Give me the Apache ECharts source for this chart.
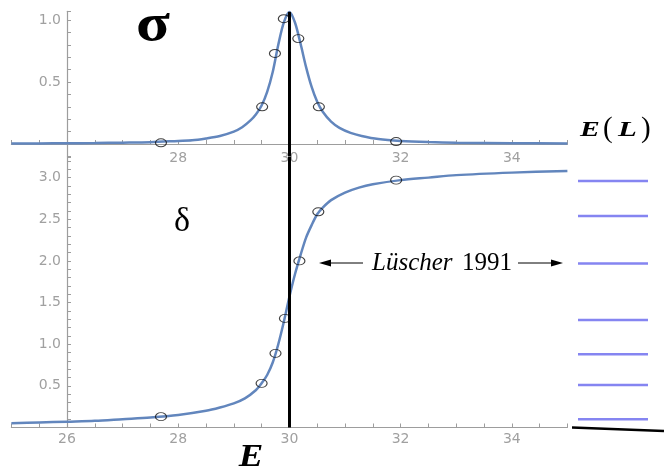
<!DOCTYPE html>
<html>
<head>
<meta charset="utf-8">
<script src="https://cdn.jsdelivr.net/npm/echarts@6/dist/echarts.min.js"></script>
<style>html,body{margin:0;padding:0;background:#fff}#c{width:664px;height:470px}</style>
</head>
<body>
<div id="c"></div>
<script>
// ---- data ----
const sigmaCurveE = [25, 25.5, 26, 26.5, 27, 27.5, 28, 28.25, 28.5, 28.75, 29, 29.15, 29.3, 29.4, 29.5, 29.6, 29.7, 29.8, 29.9, 30.0, 30.1, 30.2, 30.3, 30.4, 30.5, 30.6, 30.75, 30.9, 31.1, 31.3, 31.6, 32, 32.5, 33, 34, 35];
const sigmaCurveV = [0.004, 0.005, 0.006, 0.008, 0.011, 0.015, 0.025, 0.03, 0.045, 0.065, 0.10, 0.135, 0.19, 0.24, 0.31, 0.42, 0.58, 0.80, 0.98, 1.065, 0.98, 0.81, 0.62, 0.46, 0.34, 0.26, 0.18, 0.13, 0.09, 0.065, 0.04, 0.025, 0.016, 0.011, 0.007, 0.005];
const deltaCurveE = [25, 25.5, 26, 26.5, 27, 27.5, 28, 28.5, 28.75, 29, 29.2, 29.4, 29.5, 29.6, 29.7, 29.8, 29.9, 30.0, 30.1, 30.2, 30.3, 30.4, 30.5, 30.6, 30.75, 31, 31.25, 31.5, 32, 32.5, 33, 34, 35];
const deltaCurveV = [0.05, 0.06, 0.07, 0.08, 0.10, 0.12, 0.15, 0.20, 0.24, 0.29, 0.35, 0.45, 0.53, 0.63, 0.78, 1.0, 1.27, 1.57, 1.84, 2.07, 2.28, 2.43, 2.56, 2.64, 2.73, 2.82, 2.88, 2.92, 2.97, 3.0, 3.03, 3.06, 3.08];
const pointE = [27.69, 29.51, 29.74, 29.9, 30.16, 30.53, 31.92];
const sigmaPts = [0.01, 0.30, 0.73, 1.01, 0.85, 0.30, 0.02];
const deltaE = [27.69, 29.5, 29.75, 29.92, 30.18, 30.52, 31.92];
const deltaPts = [0.13, 0.53, 0.89, 1.31, 2.0, 2.59, 2.97];
const levelValues = [0.10, 0.51, 0.88, 1.29, 1.97, 2.54, 2.96];
const resonanceE = 30;
const xTickLabelsTop = [28, 30, 32, 34];
const xTickLabelsBottom = [26, 28, 30, 32, 34];
const yTickLabelsTop = [0.5, 1.0];
const yTickLabelsBottom = [0.5, 1.0, 1.5, 2.0, 2.5, 3.0];

const zip = (a, b) => a.map((v, i) => [v, b[i]]);
const near = (v, arr) => arr.some(t => Math.abs(v - t) < 1e-6);

const AX = '#9d9d9d', LAB = '#a0a0a0';
const SANS = '"DejaVu Sans", "Liberation Sans", sans-serif';
const SERIF = '"Liberation Serif", "DejaVu Serif", serif';

function xAx(gi, labels, margin) {
  return {
    type: 'value', gridIndex: gi, min: 25, max: 35, interval: 0.5,
    axisLine: { show: true, onZero: true, lineStyle: { color: AX, width: 1.2 } },
    axisTick: { show: true, inside: true, length: 4, lineStyle: { color: AX } },
    axisLabel: { interval: 0, color: LAB, fontSize: 14, fontFamily: SANS, margin: margin,
      formatter: v => near(v, labels) ? String(Math.round(v)) : '' },
    splitLine: { show: false }
  };
}
function yAx(gi, min, max, labels) {
  return {
    type: 'value', gridIndex: gi, min: min, max: max, interval: 0.1, offset: -55.6,
    axisLine: { show: true, onZero: false, lineStyle: { color: AX, width: 1.2 } },
    axisTick: { show: true, inside: true, length: 4, lineStyle: { color: AX } },
    axisLabel: { color: LAB, fontSize: 14, fontFamily: SANS, margin: 6,
      formatter: v => near(v, labels) ? v.toFixed(1) : '' },
    splitLine: { show: false }
  };
}

const chart = echarts.init(document.getElementById('c'), null, { renderer: 'canvas' });
const vline = (y0, y1) => ({
  silent: true, symbol: 'none', animation: false,
  lineStyle: { color: '#000', width: 3, type: 'solid' },
  label: { show: false }, emphasis: { disabled: true },
  data: [[{ coord: [resonanceE, y0] }, { coord: [resonanceE, y1] }]]
});
const circleStyle = { color: 'rgba(0,0,0,0)', borderColor: '#111', borderWidth: 1 };
const curveLine = { color: '#6286bd', width: 2.5 };

chart.setOption({
  animation: false,
  backgroundColor: '#fff',
  grid: [
    { left: 11.4, width: 556, top: 11.3, height: 145.1 },
    { left: 11.4, width: 556, top: 156.8, height: 270.7 },
    { left: 578, width: 70, top: 156.8, height: 270.7 }
  ],
  xAxis: [
    xAx(0, xTickLabelsTop, -5),
    xAx(1, xTickLabelsBottom, 5),
    { type: 'value', gridIndex: 2, min: 0, max: 1, show: false }
  ],
  yAxis: [
    yAx(0, -0.1, 1.07, yTickLabelsTop),
    yAx(1, 0, 3.25, yTickLabelsBottom),
    { type: 'value', gridIndex: 2, min: 0, max: 3.25, show: false }
  ],
  series: [
    { type: 'line', xAxisIndex: 0, yAxisIndex: 0, data: zip(sigmaCurveE, sigmaCurveV),
      smooth: 0.3, showSymbol: false, symbol: 'none',
      lineStyle: curveLine, z: 2, markLine: vline(-0.1, 1.065) },
    { type: 'scatter', xAxisIndex: 0, yAxisIndex: 0, data: zip(pointE, sigmaPts),
      symbol: 'circle', symbolSize: [11, 8], itemStyle: circleStyle, z: 3 },
    { type: 'line', xAxisIndex: 1, yAxisIndex: 1, data: zip(deltaCurveE, deltaCurveV),
      smooth: 0.3, showSymbol: false, symbol: 'none',
      lineStyle: curveLine, z: 2, markLine: vline(0, 3.25) },
    { type: 'scatter', xAxisIndex: 1, yAxisIndex: 1, data: zip(deltaE, deltaPts),
      symbol: 'circle', symbolSize: [11, 8], itemStyle: circleStyle, z: 3 },
    { type: 'scatter', xAxisIndex: 2, yAxisIndex: 2, data: levelValues.map(v => [0.5, v]),
      symbol: 'rect', symbolSize: [70, 2.5], itemStyle: { color: '#6767ee' }, z: 3 }
  ],
  graphic: [
    { type: 'text', x: 153, y: 27, scaleX: 1.2, style: { text: 'σ', font: 'bold 52px ' + SERIF, fill: '#000', align: 'center', verticalAlign: 'middle' } },
    { type: 'text', x: 182, y: 222, style: { text: 'δ', font: '34px ' + SERIF, fill: '#000', align: 'center', verticalAlign: 'middle' } },
    // Lüscher annotation with arrows
    { type: 'line', shape: { x1: 363, y1: 263, x2: 328, y2: 263 }, style: { stroke: '#000', lineWidth: 1 } },
    { type: 'polygon', shape: { points: [[319, 263], [331, 259.5], [331, 266.5]] }, style: { fill: '#000' } },
    { type: 'line', shape: { x1: 518, y1: 263, x2: 554, y2: 263 }, style: { stroke: '#000', lineWidth: 1 } },
    { type: 'polygon', shape: { points: [[563, 263], [551, 259.5], [551, 266.5]] }, style: { fill: '#000' } },
    { type: 'text', x: 372, y: 263, style: { text: 'Lüscher', font: 'italic 25px ' + SERIF, fill: '#000', align: 'left', verticalAlign: 'middle' } },
    { type: 'text', x: 512, y: 263, style: { text: '1991', font: '25px ' + SERIF, fill: '#000', align: 'right', verticalAlign: 'middle' } },
    // E(L)
    { type: 'text', x: 580, y: 130, scaleX: 1.35, style: { text: 'E', font: 'italic bold 22px ' + SERIF, fill: '#000', align: 'left', verticalAlign: 'middle' } },
    { type: 'text', x: 603, y: 129, style: { text: '(', font: '29px ' + SERIF, fill: '#000', align: 'left', verticalAlign: 'middle' } },
    { type: 'text', x: 618, y: 130, scaleX: 1.4, style: { text: 'L', font: 'italic bold 22px ' + SERIF, fill: '#000', align: 'left', verticalAlign: 'middle' } },
    { type: 'text', x: 641, y: 129, style: { text: ')', font: '29px ' + SERIF, fill: '#000', align: 'left', verticalAlign: 'middle' } },
    // bottom E
    { type: 'text', x: 251, y: 458, scaleX: 1.15, style: { text: 'E', font: 'italic bold 32px ' + SERIF, fill: '#000', align: 'center', verticalAlign: 'middle' } },
    { type: 'line', shape: { x1: 572, y1: 427.5, x2: 664, y2: 431 }, style: { stroke: '#000', lineWidth: 2.5 } }
  ]
});
</script>
</body>
</html>
